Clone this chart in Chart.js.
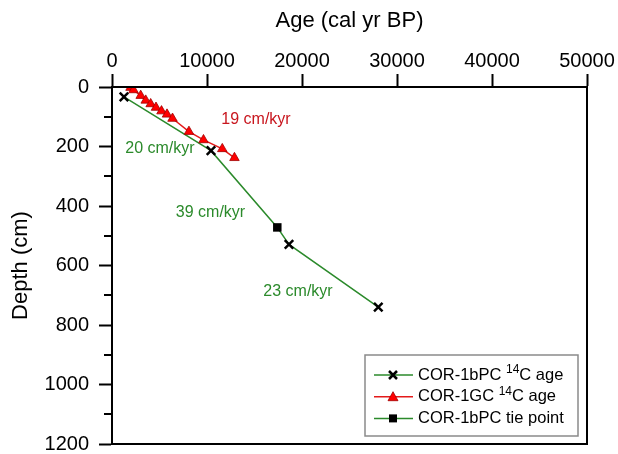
<!DOCTYPE html>
<html><head><meta charset="utf-8">
<script src="https://cdn.jsdelivr.net/npm/chart.js@4"></script>
<style>html,body{margin:0;padding:0;background:#fff}#wrap{width:618px;height:454px}</style>
</head><body><div id="wrap"><canvas id="c" width="618" height="454"></canvas></div>
<script>
// ---- data ----
const bpcAge   = [1260, 10420, 18630, 28030];   // COR-1bPC 14C age (cal yr BP)
const bpcDepth = [33, 214, 529, 740];           // cm
const gcAge    = [1950, 2260, 3020, 3550, 4070, 4630, 5210, 5790, 6370, 8100, 9630, 11610, 12890];
const gcDepth  = [2, 10, 29, 45, 57, 69, 81, 92, 106, 150, 178, 208, 238];
const tieAge   = [17400];
const tieDepth = [472];
const xTicks = [0, 10000, 20000, 30000, 40000, 50000];
const yTicks = [0, 200, 400, 600, 800, 1000, 1200];
const yMinorTicks = [100, 300, 500, 700, 900, 1100];
const rateLabels = ['19 cm/kyr', '20 cm/kyr', '39 cm/kyr', '23 cm/kyr'];
const rateAge    = [15160, 5050, 10370, 19580];
const rateDepth  = [111, 208, 423, 689];
const legendNames = ['COR-1bPC', 'COR-1GC', 'COR-1bPC'];
const legendSuffix = [' age', ' age', ' tie point'];
const legendSup = ['14', '14', ''];

// ---- styles ----
const GREEN = '#2b8a2b', RED = '#e41a1a', TEXTRED = '#c8161e', FONT = '"Liberation Sans", Arial, sans-serif';

const pts = (a, d) => a.map((v, i) => ({x: v, y: d[i]}));
const greenLine = pts(bpcAge.concat(tieAge), bpcDepth.concat(tieDepth)).sort((p, q) => p.y - q.y);
const noPad = s => { s.paddingTop = 0; s.paddingBottom = 0; s.paddingLeft = 0; s.paddingRight = 0; };

const overlay = {
  id: 'overlay',
  afterDraw(chart) {
    const {ctx, chartArea: a, scales: {x, y}} = chart;
    ctx.save();
    // frame
    ctx.strokeStyle = '#000'; ctx.lineWidth = 2;
    ctx.strokeRect(a.left, a.top, a.right - a.left, a.bottom - a.top);
    // minor ticks
    ctx.beginPath();
    yMinorTicks.forEach(v => { const py = Math.round(y.getPixelForValue(v)); ctx.moveTo(a.left - 8, py); ctx.lineTo(a.left, py); });
    ctx.stroke();
    // rate labels
    ctx.font = '16px ' + FONT; ctx.textAlign = 'center'; ctx.textBaseline = 'middle';
    rateLabels.forEach((t, i) => {
      ctx.fillStyle = i === 0 ? TEXTRED : GREEN;
      ctx.fillText(t, x.getPixelForValue(rateAge[i]), y.getPixelForValue(rateDepth[i]));
    });
    // legend
    const bw = 213, bh = 81, bx = a.right - 9 - bw, by = a.bottom - 8 - bh;
    ctx.fillStyle = '#fff'; ctx.fillRect(bx, by, bw, bh);
    ctx.strokeStyle = '#8a8a8a'; ctx.lineWidth = 1.5; ctx.strokeRect(bx, by, bw, bh);
    const colors = [GREEN, RED, GREEN];
    legendNames.forEach((n, i) => {
      const cy = by + 20 + i * 21.7;
      ctx.strokeStyle = colors[i]; ctx.lineWidth = 1.5;
      ctx.beginPath(); ctx.moveTo(bx + 9, cy); ctx.lineTo(bx + 48, cy); ctx.stroke();
      const mx = bx + 28;
      if (i === 0) {
        ctx.strokeStyle = '#000'; ctx.lineWidth = 2.5; ctx.beginPath();
        ctx.moveTo(mx - 4, cy - 4); ctx.lineTo(mx + 4, cy + 4); ctx.moveTo(mx + 4, cy - 4); ctx.lineTo(mx - 4, cy + 4); ctx.stroke();
      } else if (i === 1) {
        ctx.fillStyle = '#ff0000'; ctx.strokeStyle = '#a00000'; ctx.lineWidth = 0.8; ctx.beginPath();
        ctx.moveTo(mx, cy - 5); ctx.lineTo(mx + 5, cy + 4); ctx.lineTo(mx - 5, cy + 4); ctx.closePath(); ctx.fill(); ctx.stroke();
      } else {
        ctx.fillStyle = '#000'; ctx.fillRect(mx - 4, cy - 4, 8, 8);
      }
      ctx.fillStyle = '#000'; ctx.textAlign = 'left'; ctx.textBaseline = 'middle';
      let tx = bx + 53;
      ctx.font = '16.5px ' + FONT;
      const first = n + ' ';
      ctx.fillText(first, tx, cy); tx += ctx.measureText(first).width;
      if (legendSup[i]) {
        ctx.font = '12px ' + FONT; ctx.fillText(legendSup[i], tx, cy - 5); tx += ctx.measureText(legendSup[i]).width;
        ctx.font = '16.5px ' + FONT; ctx.fillText('C', tx, cy); tx += ctx.measureText('C').width;
      } else {
        tx -= ctx.measureText(' ').width;
      }
      ctx.fillText(legendSuffix[i], tx, cy);
    });
    ctx.restore();
  }
};

new Chart(document.getElementById('c'), {
  type: 'scatter',
  data: {
    datasets: [
      { label: 'line', data: greenLine, showLine: true, borderColor: GREEN, borderWidth: 1.5, pointRadius: 0, order: 4 },
      { label: 'COR-1GC 14C age', data: pts(gcAge, gcDepth), showLine: true, borderColor: RED, borderWidth: 1.5,
        pointStyle: 'triangle', pointRadius: 5.5, pointBackgroundColor: '#ff0000', pointBorderColor: '#a00000', pointBorderWidth: 0.8, order: 3 },
      { label: 'COR-1bPC tie point', data: pts(tieAge, tieDepth), pointStyle: 'rect', pointRadius: 6,
        pointBackgroundColor: '#000', pointBorderColor: '#000', pointBorderWidth: 0, order: 2 },
      { label: 'COR-1bPC 14C age', data: pts(bpcAge, bpcDepth), pointStyle: 'crossRot', pointRadius: 6,
        pointBorderColor: '#000', pointBorderWidth: 2.5, order: 1 }
    ]
  },
  options: {
    responsive: false, animation: false, devicePixelRatio: 1,
    layout: { padding: { left: 0, top: 0, right: 31, bottom: 10 }, autoPadding: false },
    plugins: { legend: { display: false }, tooltip: { enabled: false } },
    scales: {
      x: {
        position: 'top', min: xTicks[0], max: xTicks[xTicks.length - 1],
        afterFit: s => { s.height = 87; noPad(s); },
        afterBuildTicks: s => { s.ticks = xTicks.map(v => ({value: v})); },
        ticks: { color: '#000', font: { size: 20, family: FONT }, padding: 1, maxRotation: 0, autoSkip: false, callback: v => String(v) },
        grid: { drawOnChartArea: false, tickLength: 13, tickColor: '#000', tickWidth: 2 },
        border: { display: true, color: '#000', width: 2 },
        title: { display: true, text: 'Age (cal yr BP)', color: '#000', font: { size: 22, family: FONT }, padding: { top: 8, bottom: 0 } }
      },
      y: {
        reverse: true, min: yTicks[0], max: yTicks[yTicks.length - 1],
        afterFit: s => { s.width = 112; noPad(s); },
        afterBuildTicks: s => { s.ticks = yTicks.map(v => ({value: v})); },
        ticks: { color: '#000', font: { size: 20, family: FONT }, padding: 10, autoSkip: false, callback: v => String(v) },
        grid: { drawOnChartArea: false, tickLength: 13, tickColor: '#000', tickWidth: 2 },
        border: { display: true, color: '#000', width: 2 },
        title: { display: true, text: 'Depth (cm)', color: '#000', font: { size: 22, family: FONT }, padding: { top: 8, bottom: 5 } }
      }
    }
  },
  plugins: [overlay]
});
</script>
</body></html>
